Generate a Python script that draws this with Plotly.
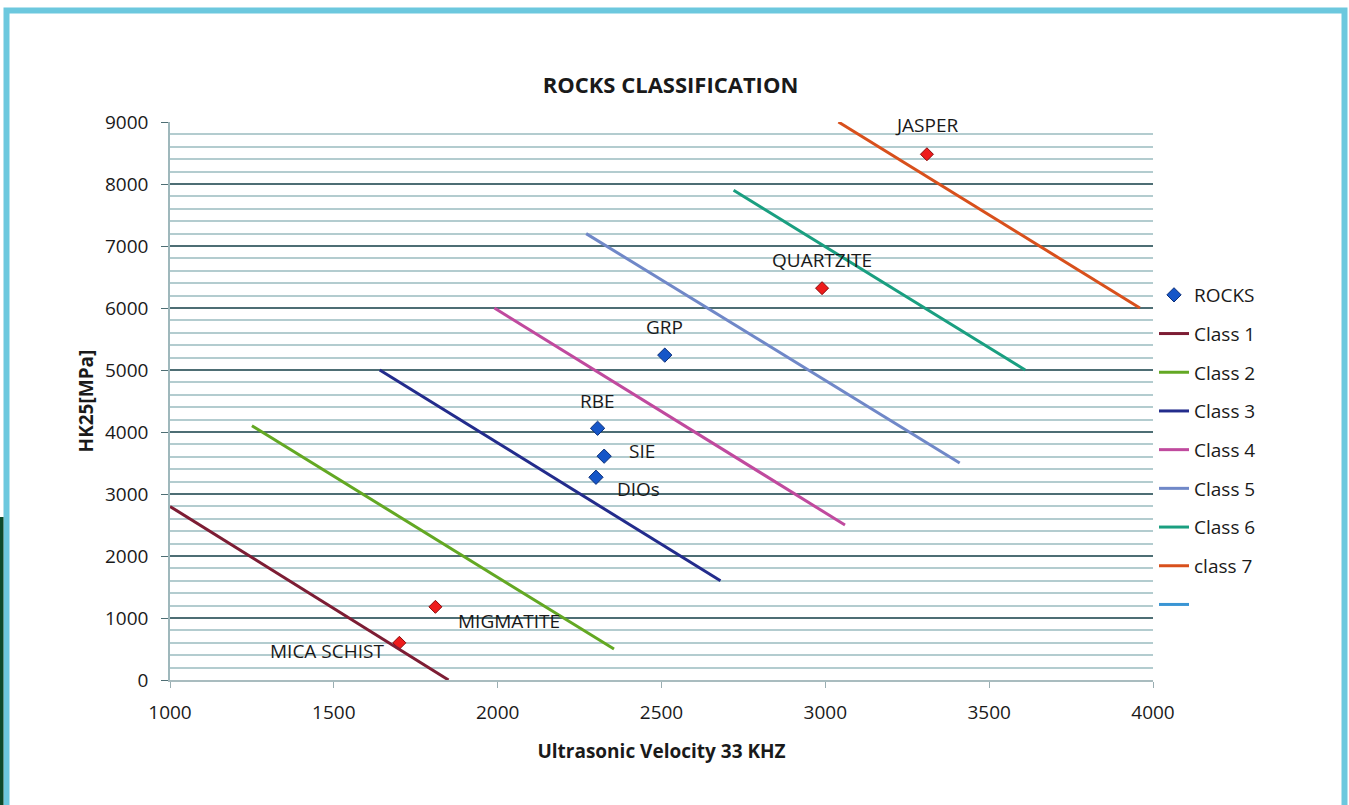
import plotly.graph_objects as go

# ---- data ----
class_names = ["Class 1", "Class 2", "Class 3", "Class 4", "Class 5", "Class 6", "class 7"]
class_x = [
    [1000, 1850],
    [1250, 2355],
    [1640, 2680],
    [1990, 3060],
    [2270, 3410],
    [2720, 3610],
    [3040, 3960],
]
class_y = [
    [2800, 0],
    [4100, 500],
    [5000, 1600],
    [6000, 2500],
    [7200, 3500],
    [7900, 5000],
    [9000, 6000],
]
class_colors = ["#7d1d34", "#63a823", "#232c8c", "#c04a9e", "#7088c8", "#1a9f80", "#d8501c"]

rock_names_blue = ["GRP", "RBE", "SIE", "DIOs"]
rock_x_blue = [2510, 2305, 2325, 2300]
rock_y_blue = [5240, 4060, 3610, 3270]

rock_names_red = ["MICA SCHIST", "MIGMATITE", "QUARTZITE", "JASPER"]
rock_x_red = [1700, 1810, 2990, 3310]
rock_y_red = [600, 1180, 6320, 8480]

x_ticks = [1000, 1500, 2000, 2500, 3000, 3500, 4000]
y_ticks = [0, 1000, 2000, 3000, 4000, 5000, 6000, 7000, 8000, 9000]

FONT = "Open Sans"
TXT = "#1a1a1a"

fig = go.Figure()

fig.add_trace(go.Scatter(
    x=rock_x_blue, y=rock_y_blue, mode="markers", name="ROCKS",
    legendgroup="g0",
    marker=dict(symbol="diamond", size=11, color="#1656c8",
                line=dict(color="#0c2f78", width=1)),
))
fig.add_trace(go.Scatter(
    x=rock_x_red, y=rock_y_red, mode="markers", name="ROCKS red",
    showlegend=False,
    marker=dict(symbol="diamond", size=10, color="#ee1c1c",
                line=dict(color="#8a0a0a", width=1)),
))

for i, (nm, xs, ys, c) in enumerate(zip(class_names, class_x, class_y, class_colors)):
    fig.add_trace(go.Scatter(
        x=xs, y=ys, mode="lines", name=nm, legendgroup=f"g{i+1}",
        line=dict(color=c, width=3),
    ))

# empty series shown in legend only
fig.add_trace(go.Scatter(
    x=[None], y=[None], mode="lines", name=" ", legendgroup="g8",
    line=dict(color="#3a95d4", width=3),
))

# labels
label_shifts_blue = [(0, 28), (0, 27), (38, 5), (43, -12)]
label_shifts_red = [(-72, -8), (74, -14), (0, 28), (0, 29)]
for nm, x, y, (dx, dy) in zip(rock_names_blue, rock_x_blue, rock_y_blue, label_shifts_blue):
    fig.add_annotation(x=x, y=y, text=nm, showarrow=False, xshift=dx, yshift=dy,
                       font=dict(family=FONT, size=19, color=TXT))
for nm, x, y, (dx, dy) in zip(rock_names_red, rock_x_red, rock_y_red, label_shifts_red):
    fig.add_annotation(x=x, y=y, text=nm, showarrow=False, xshift=dx, yshift=dy,
                       font=dict(family=FONT, size=19, color=TXT))

# frame around picture (pixel -> paper conversion)
L, R, T, B = 170, 1153, 122, 680
W, H = 1349, 805
def px(xp):
    return (xp - L) / (R - L)
def py(yp):
    return (B - yp) / (B - T)

fig.add_shape(type="rect", xref="paper", yref="paper",
              x0=px(6.5), x1=px(1344.5), y0=py(830), y1=py(10.5),
              line=dict(color="#6cc8de", width=6), fillcolor="rgba(0,0,0,0)", layer="below")
fig.add_shape(type="rect", xref="paper", yref="paper",
              x0=px(0), x1=px(3.5), y0=py(805), y1=py(517),
              line=dict(width=0), fillcolor="#0d4a2a", layer="below")

fig.update_layout(
    width=W, height=H,
    margin=dict(l=L, r=W - R, t=T, b=H - B),
    paper_bgcolor="white", plot_bgcolor="white",
    title=dict(text="<b>ROCKS CLASSIFICATION</b>", x=(541 + 800) / 2 / W, xanchor="center",
               y=1 - 85 / H, yanchor="middle",
               font=dict(family=FONT, size=22, color=TXT)),
    font=dict(family=FONT, size=19, color=TXT),
    legend=dict(x=px(1154), xanchor="left", y=py(276), yanchor="top",
                traceorder="grouped", tracegroupgap=11,
                font=dict(family=FONT, size=19, color=TXT),
                itemwidth=30, bgcolor="rgba(0,0,0,0)"),
    xaxis=dict(range=[1000, 4000], tickvals=x_ticks, ticks="outside", ticklen=6,
               tickcolor="#9aaeb2", showgrid=False, zeroline=False,
               showline=True, linecolor="#a9bcbf", linewidth=1.5,
               ticklabelstandoff=8,
               tickfont=dict(family=FONT, size=19, color=TXT),
               title=dict(text="<b>Ultrasonic Velocity 33 KHZ</b>", standoff=21,
                          font=dict(family=FONT, size=19, color=TXT))),
    yaxis=dict(range=[0, 9000], tickvals=y_ticks, ticks="outside", ticklen=7,
               tickcolor="#4e6e74", showgrid=True, gridcolor="#4e6e74", gridwidth=1.5,
               zeroline=False, showline=True, linecolor="#9fb8bc", linewidth=1.5,
               ticklabelstandoff=9,
               tickfont=dict(family=FONT, size=19, color=TXT),
               minor=dict(dtick=200, showgrid=True, gridcolor="#b3cccf", gridwidth=1.5),
               title=dict(text="<b>HK25[MPa]</b>", standoff=6,
                          font=dict(family=FONT, size=19, color=TXT))),
)

fig.write_html("out.html", config={"displayModeBar": False},
               post_script="document.body.style.margin='0';document.body.style.overflow='hidden';")
